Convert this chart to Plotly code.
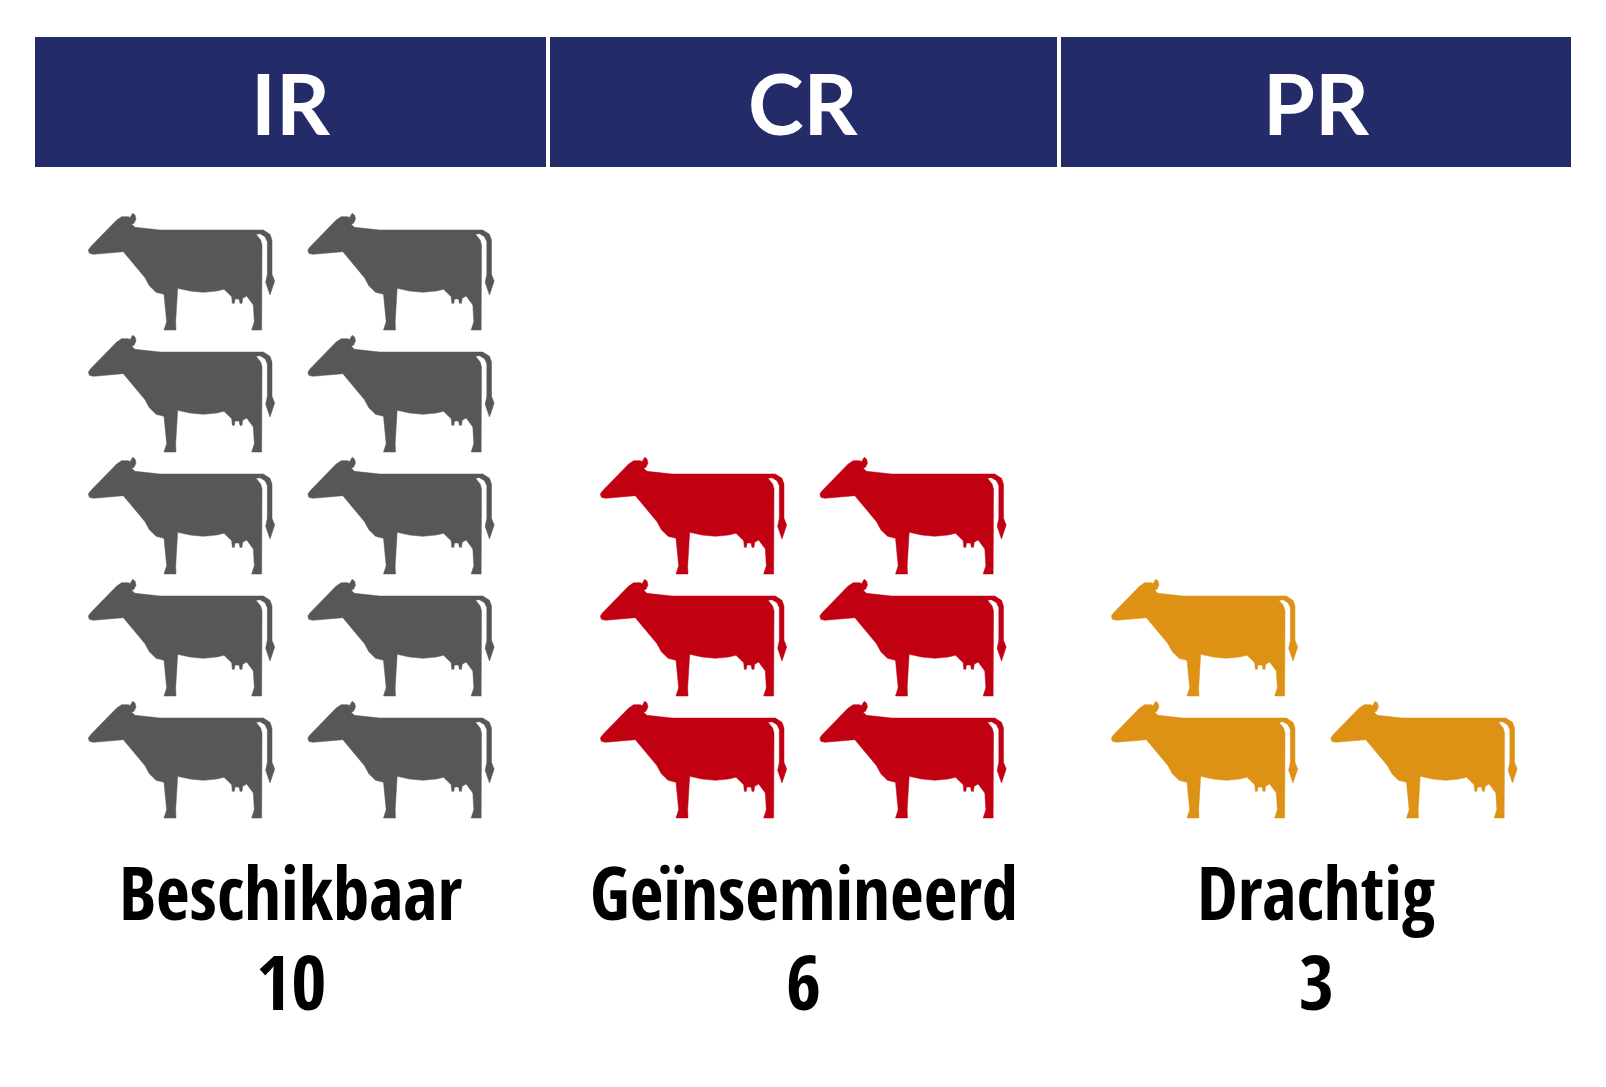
import plotly.graph_objects as go

# chart values
headers = ["IR", "CR", "PR"]
labels = ["Beschikbaar", "Geïnsemineerd", "Drachtig"]
counts = [10, 6, 3]

colors = ["#575757", "#C10012", "#DD9115"]
header_color = "#232C69"

# the page has an 8px body margin, so the figure is the window minus that
PAGE_W = 1606
PAGE_H = 1087
MARGIN = 8

# header boxes, in page pixels
box_left = [35, 550, 1061]
box_right = [546, 1057, 1571]
box_top = 37
box_bottom = 167

# where the icons of each group start
group_x = [70, 582, 1093]
bottom_row_y = 195 + 4 * 122
col_step = 219.5
row_step = 122

label_font = "Open Sans Condensed, Roboto Condensed, sans-serif"

# cow icon outline, traced at 3x (icon glyph, not data)
cow_outline = [
    (55, 165), (62, 155), (140, 75), (155, 65), (175, 65), (180, 68), (188, 55), (195, 60),
    (198, 72), (192, 85), (185, 88), (195, 97), (270, 105), (550, 103), (580, 105), (600, 118),
    (606, 135), (606, 238), (614, 258), (600, 300), (587, 262), (592, 238), (592, 140), (585, 125),
    (570, 116), (558, 118), (572, 135), (576, 150), (575, 405), (545, 405), (553, 380), (550, 330),
    (530, 303), (518, 310), (516, 325), (510, 325), (507, 312), (495, 312), (493, 325), (487, 325),
    (485, 305), (462, 283), (440, 288), (400, 292), (360, 288), (323, 280), (317, 380), (318, 405),
    (282, 405), (290, 380), (282, 298), (258, 292), (238, 272), (225, 248), (160, 170), (70, 178),
    (58, 175), (55, 165),
]


def cow_positions(count, start_x):
    # two icons per row, filled from the bottom row upwards
    positions = []
    for i in range(count):
        positions.append((start_x + (i % 2) * col_step, bottom_row_y - (i // 2) * row_step))
    return positions


fig = go.Figure()

for i in range(len(headers)):
    xs = []
    ys = []
    for px, py in cow_positions(counts[i], group_x[i]):
        xs += [px + p[0] / 3 for p in cow_outline] + [None]
        ys += [py + p[1] / 3 for p in cow_outline] + [None]
    fig.add_trace(go.Scatter(x=xs, y=ys, mode="lines", fill="toself", fillcolor=colors[i],
                             line=dict(color=colors[i], width=0.5), name=labels[i],
                             hoverinfo="name", showlegend=False))

    center = (box_left[i] + box_right[i]) / 2
    fig.add_shape(type="rect", x0=box_left[i], x1=box_right[i], y0=box_top, y1=box_bottom,
                  fillcolor=header_color, line_width=0, layer="below")
    fig.add_annotation(x=center, y=102, text=headers[i], showarrow=False,
                       font=dict(family="Lato", size=84, color="white", weight=700))
    fig.add_annotation(x=center, y=891, text=labels[i], showarrow=False,
                       font=dict(family=label_font, size=73, color="black", weight=700))
    fig.add_annotation(x=center, y=980, text=str(counts[i]), showarrow=False,
                       font=dict(family=label_font, size=76, color="black", weight=700))

fig.update_layout(
    width=PAGE_W - 2 * MARGIN,
    height=PAGE_H - 2 * MARGIN,
    margin=dict(l=0, r=0, t=0, b=0),
    paper_bgcolor="white",
    plot_bgcolor="white",
    showlegend=False,
    xaxis=dict(range=[MARGIN, PAGE_W - MARGIN], visible=False, fixedrange=True),
    yaxis=dict(range=[PAGE_H - MARGIN, MARGIN], visible=False, fixedrange=True),
)

fig.write_html("out.html")
